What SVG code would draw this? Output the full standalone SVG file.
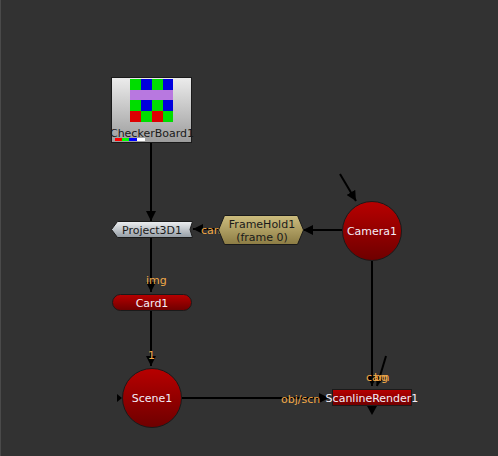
<svg xmlns="http://www.w3.org/2000/svg" width="498" height="456" viewBox="0 0 498 456">
<defs>
<linearGradient id="gGrey" x1="0" y1="0" x2="0" y2="1"><stop offset="0" stop-color="#ececec"/><stop offset="1" stop-color="#9c9c9c"/></linearGradient>
<linearGradient id="gProj" x1="0" y1="0" x2="0" y2="1"><stop offset="0" stop-color="#eef0f2"/><stop offset="1" stop-color="#949ca4"/></linearGradient>
<linearGradient id="gOlive" x1="0" y1="0" x2="0" y2="1"><stop offset="0" stop-color="#cdbd7e"/><stop offset="1" stop-color="#8c7c44"/></linearGradient>
<linearGradient id="gRed" x1="0" y1="0" x2="0" y2="1"><stop offset="0" stop-color="#b80000"/><stop offset="1" stop-color="#6e0000"/></linearGradient>
<marker id="arr" viewBox="0 0 10 10" refX="10" refY="5" markerWidth="10" markerHeight="10" markerUnits="userSpaceOnUse" orient="auto"><path d="M0,0 L10,5 L0,10 z" fill="#000"/></marker>
<style>
.edge{stroke:#000;stroke-width:2;fill:none}
.lbl{font-family:"DejaVu Sans",sans-serif;font-size:11px;fill:#f0a848}
.nt{font-family:"DejaVu Sans",sans-serif;font-size:11px;text-anchor:middle}
.w{fill:#f4eef8}
.d{fill:#1a1a1a}
.nodeOutline{stroke:#1a1a1a;stroke-width:1}
</style>
</defs>
<rect width="498" height="456" fill="#323232"/>
<rect x="0" y="0" width="1" height="456" fill="#4a4a4a"/>

<g id="connectors">
<line class="edge" x1="151" y1="142" x2="151" y2="221" marker-end="url(#arr)"/>
<line class="edge" x1="342" y1="230" x2="303" y2="230" marker-end="url(#arr)"/>
<line class="edge" x1="220" y1="229" x2="193" y2="229" marker-end="url(#arr)"/>
<text class="lbl" x="201" y="234">cam</text>
<line class="edge" x1="340" y1="174" x2="356" y2="201" marker-end="url(#arr)"/>
<line class="edge" x1="151" y1="238" x2="151" y2="292" marker-end="url(#arr)"/>
<text class="lbl" x="146" y="284">img</text>
<line class="edge" x1="151" y1="311" x2="151" y2="366" marker-end="url(#arr)"/>
<text class="lbl" x="148" y="359">1</text>
<line class="edge" x1="372" y1="261" x2="372" y2="386" marker-end="url(#arr)"/>
<line class="edge" x1="386" y1="356" x2="377" y2="386" marker-end="url(#arr)"/>
<text class="lbl" x="366" y="381">cam</text>
<text class="lbl" x="374" y="381">bg</text>
<line class="edge" x1="182" y1="398" x2="329" y2="398" marker-end="url(#arr)"/>
<text class="lbl" x="281" y="403">obj/scn</text>
<path d="M117,394 L122,398 L117,402 z" fill="#000"/>
<path d="M367,406 L377,406 L372,415 z" fill="#000"/>
</g>

<g id="CheckerBoard1">
<rect x="111.5" y="77.5" width="80" height="65" fill="url(#gGrey)" class="nodeOutline"/>
<rect x="130" y="79" width="11" height="11" fill="#00dd00"/>
<rect x="141" y="79" width="11" height="11" fill="#0000dd"/>
<rect x="152" y="79" width="11" height="11" fill="#00dd00"/>
<rect x="163" y="79" width="10" height="11" fill="#0000dd"/>
<rect x="130" y="90" width="43" height="10" fill="#b878e0"/>
<rect x="130" y="100" width="11" height="11" fill="#00dd00"/>
<rect x="141" y="100" width="11" height="11" fill="#0000dd"/>
<rect x="152" y="100" width="11" height="11" fill="#00dd00"/>
<rect x="163" y="100" width="10" height="11" fill="#0000dd"/>
<rect x="130" y="111" width="11" height="11" fill="#dd0000"/>
<rect x="141" y="111" width="11" height="11" fill="#00dd00"/>
<rect x="152" y="111" width="11" height="11" fill="#dd0000"/>
<rect x="163" y="111" width="10" height="11" fill="#00dd00"/>
<text class="nt d" x="152" y="137">CheckerBoard1</text>
<rect x="115" y="138" width="7" height="3" fill="#ff0000"/>
<rect x="122" y="138" width="7" height="3" fill="#00ff00"/>
<rect x="129" y="138" width="8" height="3" fill="#0000ff"/>
<rect x="137" y="138" width="8" height="3" fill="#ffffff"/>
</g>

<g id="Project3D1">
<polygon points="111.5,229.5 117.5,221.5 192.5,221.5 190,229.5 192.5,237.5 117.5,237.5" fill="url(#gProj)" class="nodeOutline"/>
<text class="nt d" x="152" y="233.5">Project3D1</text>
</g>

<g id="FrameHold1">
<polygon points="218.5,230 224.5,215.5 297.5,215.5 303.5,230 297.5,244.5 224.5,244.5" fill="url(#gOlive)" class="nodeOutline"/>
<text class="nt d" x="262" y="228">FrameHold1</text>
<text class="nt d" x="262" y="241">(frame 0)</text>
</g>

<g id="Camera1">
<circle cx="372" cy="231" r="29.5" fill="url(#gRed)" class="nodeOutline"/>
<text class="nt w" x="372" y="235">Camera1</text>
</g>

<g id="Card1">
<rect x="112.5" y="294.5" width="79" height="16" rx="8" fill="url(#gRed)" class="nodeOutline"/>
<text class="nt w" x="152" y="306.5">Card1</text>
</g>

<g id="Scene1">
<circle cx="152" cy="398" r="29.5" fill="url(#gRed)" class="nodeOutline"/>
<text class="nt w" x="152" y="402">Scene1</text>
</g>

<g id="ScanlineRender1">
<rect x="332.5" y="389.5" width="79" height="16" fill="url(#gRed)" class="nodeOutline"/>
<text class="nt w" x="372" y="402">ScanlineRender1</text>
</g>
</svg>
